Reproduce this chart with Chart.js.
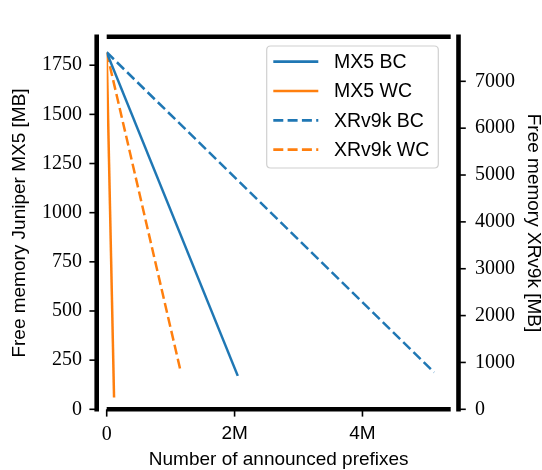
<!DOCTYPE html>
<html>
<head>
<meta charset="utf-8">
<script src="https://cdn.jsdelivr.net/npm/chart.js@4/dist/chart.umd.min.js"></script>
<style>
html,body{margin:0;padding:0;background:#fff;}
canvas{display:block;}
</style>
</head>
<body>
<canvas id="c" width="542" height="470"></canvas>
<script>
// ---- data ----
const seriesLabels = ['MX5 BC', 'MX5 WC', 'XRv9k BC', 'XRv9k WC'];
const mx5BcX = [0, 2050000];
const mx5BcY = [1815, 170];
const mx5WcX = [0, 115000];
const mx5WcY = [1815, 60];
const xrBcX = [0, 5120000];
const xrBcY = [7620, 790];
const xrWcX = [0, 1150000];
const xrWcY = [7620, 850];
const xTicks = [0, 2000000, 4000000];
const yLeftTicks = [0, 250, 500, 750, 1000, 1250, 1500, 1750];
const yRightTicks = [0, 1000, 2000, 3000, 4000, 5000, 6000, 7000];

const BLUE = '#1f77b4', ORANGE = '#ff7f0e';
const SERIF = "'Liberation Serif', 'DejaVu Serif', serif";
const SANS = "'Liberation Sans', Arial, sans-serif";

function pts(xs, ys){ return xs.map((x,i)=>({x:x, y:ys[i]})); }

const spinePlugin = {
  id: 'spines',
  afterDatasetsDraw(chart){
    const ctx = chart.ctx, a = chart.chartArea;
    const lw = 4.6, h = lw/2;
    const leftX = a.left - 10, rightX = a.right + 7.8;
    ctx.save();
    ctx.strokeStyle = '#000';
    ctx.lineCap = 'butt';
    // tick marks
    ctx.lineWidth = 1.6;
    const yl = chart.scales.y, yr = chart.scales.y2, xs = chart.scales.x;
    yLeftTicks.forEach(v=>{ const y = yl.getPixelForValue(v); ctx.beginPath(); ctx.moveTo(leftX - h - 5, y); ctx.lineTo(leftX, y); ctx.stroke(); });
    yRightTicks.forEach(v=>{ const y = yr.getPixelForValue(v); ctx.beginPath(); ctx.moveTo(rightX, y); ctx.lineTo(rightX + h + 5, y); ctx.stroke(); });
    xTicks.forEach(v=>{ const x = xs.getPixelForValue(v); ctx.beginPath(); ctx.moveTo(x, a.bottom); ctx.lineTo(x, a.bottom + h + 5); ctx.stroke(); });
    // spines
    ctx.lineWidth = lw;
    ctx.beginPath(); ctx.moveTo(leftX, a.top - h); ctx.lineTo(leftX, a.bottom + h); ctx.stroke();
    ctx.beginPath(); ctx.moveTo(rightX, a.top - h); ctx.lineTo(rightX, a.bottom + h); ctx.stroke();
    ctx.beginPath(); ctx.moveTo(a.left, a.top); ctx.lineTo(a.right, a.top); ctx.stroke();
    ctx.beginPath(); ctx.moveTo(a.left, a.bottom); ctx.lineTo(a.right, a.bottom); ctx.stroke();

    // legend
    const bx = a.left + 160, by = a.top + 9.3, bw = 171.6, bh = 122, r = 4;
    ctx.beginPath();
    ctx.moveTo(bx + r, by); ctx.lineTo(bx + bw - r, by); ctx.quadraticCurveTo(bx + bw, by, bx + bw, by + r);
    ctx.lineTo(bx + bw, by + bh - r); ctx.quadraticCurveTo(bx + bw, by + bh, bx + bw - r, by + bh);
    ctx.lineTo(bx + r, by + bh); ctx.quadraticCurveTo(bx, by + bh, bx, by + bh - r);
    ctx.lineTo(bx, by + r); ctx.quadraticCurveTo(bx, by, bx + r, by);
    ctx.closePath();
    ctx.fillStyle = 'rgba(255,255,255,0.8)';
    ctx.fill();
    ctx.strokeStyle = '#d0d0d0';
    ctx.lineWidth = 1.2;
    ctx.stroke();
    ctx.font = '19.5px ' + SANS;
    ctx.textBaseline = 'middle';
    ctx.textAlign = 'left';
    chart.data.datasets.forEach((ds, i)=>{
      const cy = by + 15.7 + i * 29.3;
      ctx.beginPath();
      ctx.setLineDash(ds.borderDash || []);
      ctx.strokeStyle = ds.borderColor;
      ctx.lineWidth = 2.7;
      ctx.moveTo(bx + 6.6, cy); ctx.lineTo(bx + 51.6, cy); ctx.stroke();
      ctx.setLineDash([]);
      ctx.fillStyle = '#000';
      ctx.fillText(ds.label, bx + 67.3, cy + 1);
    });
    ctx.restore();
  }
};

const lineDs = (label, data, color, dash, axis) => ({
  label, data, borderColor: color, backgroundColor: color, borderWidth: 2.5,
  borderDash: dash, pointRadius: 0, pointHoverRadius: 0, fill: false, tension: 0,
  yAxisID: axis, borderCapStyle: 'butt'
});

new Chart(document.getElementById('c'), {
  type: 'line',
  data: {
    datasets: [
      lineDs(seriesLabels[0], pts(mx5BcX, mx5BcY), BLUE, [], 'y'),
      lineDs(seriesLabels[1], pts(mx5WcX, mx5WcY), ORANGE, [], 'y'),
      lineDs(seriesLabels[2], pts(xrBcX, xrBcY), BLUE, [10, 4.3], 'y2'),
      lineDs(seriesLabels[3], pts(xrWcX, xrWcY), ORANGE, [10, 4.3], 'y2')
    ]
  },
  options: {
    responsive: false,
    animation: false,
    devicePixelRatio: 1,
    layout: { padding: { top: 11.7, left: 0, right: 0, bottom: 0 } },
    plugins: { legend: { display: false }, tooltip: { enabled: false } },
    scales: {
      x: {
        type: 'linear', min: 0, max: 5380000,
        afterBuildTicks: s => { s.ticks = xTicks.map(v=>({value:v})); },
        afterFit: s => { s.height = 60.7; },
        grid: { display: false, drawTicks: false },
        border: { display: false },
        ticks: {
          color: '#000', padding: 13,
          font: c => (c.tick && c.tick.value === 0) ? { family: SERIF, size: 20 } : { family: SANS, size: 19 },
          callback: v => v === 0 ? '0' : (v / 1000000) + 'M'
        },
        title: { display: true, text: 'Number of announced prefixes', color: '#000',
                 font: { family: SANS, size: 19 }, padding: { top: 0, bottom: -1.4 } }
      },
      y: {
        type: 'linear', position: 'left', min: 0, max: 1895,
        afterBuildTicks: s => { s.ticks = yLeftTicks.map(v=>({value:v})); },
        afterFit: s => { s.width = 106.7; },
        grid: { display: false, drawTicks: false },
        border: { display: false },
        ticks: { color: '#000', padding: 24.7, font: { family: SERIF, size: 20 }, callback: v => String(v) },
        title: { display: true, text: 'Free memory Juniper MX5 [MB]', color: '#000',
                 font: { family: SANS, size: 19 }, padding: { top: 8.6, bottom: 0 } }
      },
      y2: {
        type: 'linear', position: 'right', min: 0, max: 7952,
        afterBuildTicks: s => { s.ticks = yRightTicks.map(v=>({value:v})); },
        afterFit: s => { s.width = 91.3; },
        grid: { display: false, drawTicks: false },
        border: { display: false },
        ticks: { color: '#000', padding: 24.3, font: { family: SERIF, size: 20 }, callback: v => String(v) },
        title: { display: true, text: 'Free memory XRv9k [MB]', color: '#000',
                 font: { family: SANS, size: 19 }, padding: { top: -2.7, bottom: 0 } }
      }
    }
  },
  plugins: [spinePlugin]
});
</script>
</body>
</html>
